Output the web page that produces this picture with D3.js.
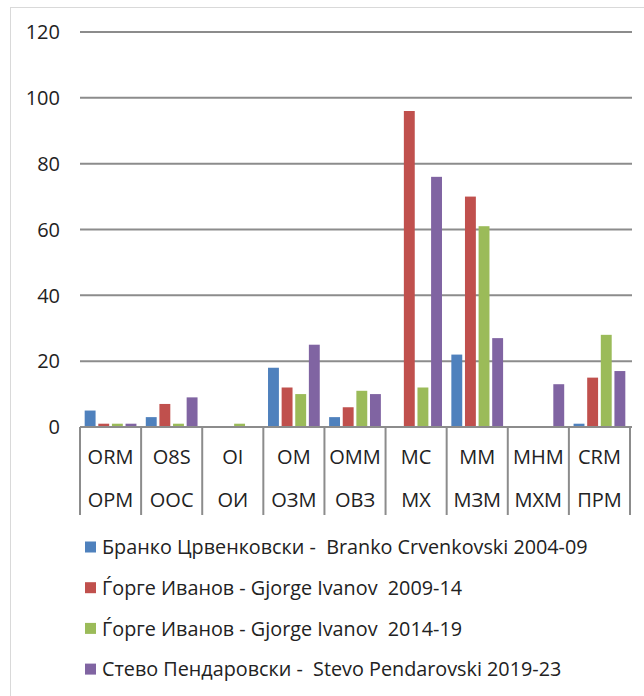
<!DOCTYPE html>
<html lang="en">
<head>
    <meta charset="UTF-8">
    <title>Bar chart</title>
    <script src="https://d3js.org/d3.v7.min.js"></script>
    <style>
        body, html { margin: 0; padding: 0; background: #fff; }
        svg { display: block; font-family: "Open Sans", "Noto Sans", sans-serif; }
        text { white-space: pre; }
    </style>
</head>
<body>
    <script>
        // Data
        const categories = ["ORM", "O8S", "OI", "OM", "OMM", "MC", "MM", "MHM", "CRM"];
        const categoriesMk = ["ОРМ", "ООС", "ОИ", "ОЗМ", "ОВЗ", "МХ", "МЗМ", "МХМ", "ПРМ"];
        const seriesNames = [
            "Бранко Црвенковски -  Branko Crvenkovski 2004-09",
            "Ѓорге Иванов - Gjorge Ivanov  2009-14",
            "Ѓорге Иванов - Gjorge Ivanov  2014-19",
            "Стево Пендаровски -  Stevo Pendarovski 2019-23"
        ];
        const crvenkovski = [5, 3, 0, 18, 3, 0, 22, 0, 1];
        const ivanov1 = [1, 7, 0, 12, 6, 96, 70, 0, 15];
        const ivanov2 = [1, 1, 1, 10, 11, 12, 61, 0, 28];
        const pendarovski = [1, 9, 0, 25, 10, 76, 27, 13, 17];
        const yTicks = [0, 20, 40, 60, 80, 100, 120];
        const colors = ["#4F81BD", "#C0504D", "#9BBB59", "#8064A2"];

        const allSeries = [crvenkovski, ivanov1, ivanov2, pendarovski];
        const width = 644, height = 696;
        const plotLeft = 80, plotRight = 630, plotTop = 32, plotBottom = 427;

        const svg = d3.select("body").append("svg")
            .attr("width", width)
            .attr("height", height);

        // chart frame
        svg.append("rect")
            .attr("x", 10.5).attr("y", 7.5)
            .attr("width", 640).attr("height", 700)
            .attr("fill", "none")
            .attr("stroke", "#d9d9d9");

        const y = d3.scaleLinear().domain([0, 120]).range([plotBottom, plotTop]);
        const x0 = d3.scaleBand().domain(categories).range([plotLeft, plotRight]).paddingInner(0).paddingOuter(0);
        const x1 = d3.scaleBand().domain(d3.range(4)).range([4, x0.bandwidth() - 4]).paddingInner(0.2).paddingOuter(0.05);

        // gridlines + tick labels
        svg.append("g")
            .selectAll("line")
            .data(yTicks)
            .join("line")
            .attr("x1", plotLeft).attr("x2", plotRight + 2)
            .attr("y1", d => y(d)).attr("y2", d => y(d))
            .attr("stroke", "#8c8c8c")
            .attr("stroke-width", 2);

        svg.append("g")
            .selectAll("text")
            .data(yTicks)
            .join("text")
            .attr("x", 60)
            .attr("y", d => y(d))
            .attr("dy", "0.36em")
            .attr("text-anchor", "end")
            .attr("font-size", 20)
            .attr("fill", "#222")
            .text(d => d);

        // bars
        const groups = svg.append("g")
            .selectAll("g")
            .data(categories)
            .join("g")
            .attr("transform", d => `translate(${x0(d)},0)`);

        groups.selectAll("rect")
            .data((d, i) => allSeries.map((s, k) => ({ k: k, v: s[i] })))
            .join("rect")
            .attr("x", d => x1(d.k))
            .attr("width", x1.bandwidth())
            .attr("y", d => y(d.v))
            .attr("height", d => plotBottom - y(d.v))
            .attr("fill", d => colors[d.k]);

        // category dividers
        const edges = categories.map(c => x0(c)).concat([plotRight]);
        svg.append("g")
            .selectAll("line")
            .data(edges)
            .join("line")
            .attr("x1", d => d).attr("x2", d => d)
            .attr("y1", plotBottom).attr("y2", 515)
            .attr("stroke", "#8c8c8c")
            .attr("stroke-width", 2);

        svg.append("line")
            .attr("x1", plotLeft).attr("x2", plotRight + 2)
            .attr("y1", plotBottom).attr("y2", plotBottom)
            .attr("stroke", "#8c8c8c")
            .attr("stroke-width", 2);

        // category labels
        const labels = svg.append("g")
            .selectAll("g")
            .data(categories)
            .join("g")
            .attr("transform", d => `translate(${x0(d) + x0.bandwidth() / 2},0)`);
        labels.append("text")
            .attr("y", 464)
            .attr("text-anchor", "middle")
            .attr("font-size", 20)
            .attr("fill", "#222")
            .text(d => d);
        labels.append("text")
            .attr("y", 507)
            .attr("text-anchor", "middle")
            .attr("font-size", 20)
            .attr("fill", "#222")
            .text((d, i) => categoriesMk[i]);

        // legend
        const legend = svg.append("g")
            .selectAll("g")
            .data(seriesNames)
            .join("g")
            .attr("transform", (d, i) => `translate(85,${547 + i * 40.7})`);
        legend.append("rect")
            .attr("x", 0).attr("y", -5.5)
            .attr("width", 11).attr("height", 11)
            .attr("fill", (d, i) => colors[i]);
        legend.append("text")
            .attr("x", 17)
            .attr("dy", "0.36em")
            .attr("font-size", 19.8)
            .attr("fill", "#222")
            .text(d => d);
    </script>
</body>
</html>
